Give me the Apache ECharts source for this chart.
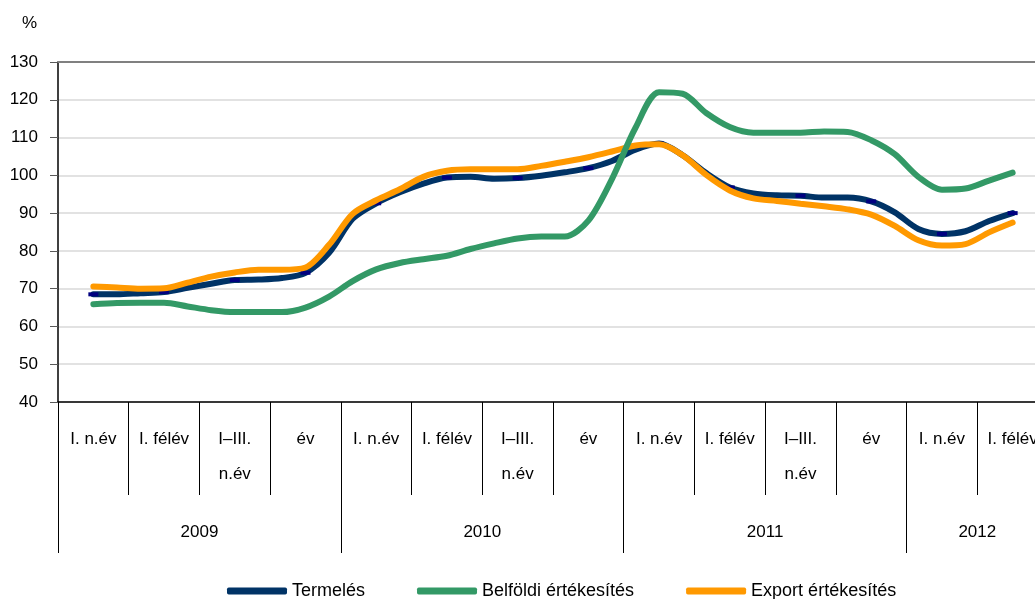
<!DOCTYPE html>
<html>
<head>
<meta charset="utf-8">
<script src="https://cdn.jsdelivr.net/npm/echarts@6/dist/echarts.min.js"></script>
<style>
  html, body { margin: 0; padding: 0; background: #fff; }
  #chart { width: 1035px; height: 599px; }
</style>
</head>
<body>
<div id="chart"></div>
<script>
// negyedéves címkék és évek
var quarterLabels = [
    'I. n.év', 'I. félév', 'I–III.\nn.év', 'év',
    'I. n.év', 'I. félév', 'I–III.\nn.év', 'év',
    'I. n.év', 'I. félév', 'I–III.\nn.év', 'év',
    'I. n.év', 'I. félév'
];
var years = ['2009', '2010', '2011', '2012'];
var quartersPerYear = [4, 4, 4, 2];
var seriesNames = ['Termelés', 'Belföldi értékesítés', 'Export értékesítés'];
var seriesColors = ['#003366', '#339966', '#ff9900'];

// havi adatok, 2009. február – 2012. május
var termeles = [
    68.5, 68.5, 68.8, 69.1, 70.2, 71.3, 72.3, 72.4, 72.8, 74.2,
    79.5, 88.5, 92.6, 95.5, 97.8, 99.4, 99.6, 99.1, 99.3, 99.9,
    100.8, 101.9, 103.8, 106.8, 108.4, 105.3, 100.6, 96.8, 95.2, 94.7,
    94.6, 94.1, 94.1, 93.1, 90.2, 85.8, 84.5, 85.2, 87.9, 90.0
];
var belfoldi = [
    65.9, 66.2, 66.3, 66.3, 65.3, 64.3, 63.8, 63.8, 63.8, 65.0,
    67.9, 72.0, 75.1, 76.8, 77.8, 78.7, 80.5, 82.0, 83.3, 83.8,
    83.8, 88.0, 99.0, 112.6, 122.0, 121.6, 116.5, 112.8, 111.3, 111.3,
    111.3, 111.6, 111.5, 109.3, 105.6, 99.6, 96.2, 96.5, 98.6, 100.7
];
var exportErt = [
    70.6, 70.3, 70.0, 70.1, 71.6, 73.2, 74.3, 75.0, 75.0, 75.6,
    81.6, 89.8, 93.4, 96.3, 99.6, 101.2, 101.6, 101.6, 101.6, 102.5,
    103.6, 104.8, 106.3, 107.9, 108.2, 105.3, 100.1, 96.0, 93.9, 93.2,
    92.5, 91.8, 91.0, 89.6, 86.6, 82.8, 81.4, 81.8, 84.9, 87.5
];

// hónap kategóriák (a negyedévek harmadai)
var months = [];
quartersPerYear.forEach(function (q, i) {
    for (var m = 1; m <= q * 3; m++) {
        months.push(years[i] + '-' + m);
    }
});

// negyedév és év határok / közepek negyedév egységben
var quarterBounds = [], quarterCenters = [];
for (var i = 0; i <= quarterLabels.length; i++) {
    quarterBounds.push(i);
    if (i < quarterLabels.length) quarterCenters.push(i + 0.5);
}
var yearBounds = [], yearCenters = [], acc = 0;
quartersPerYear.forEach(function (q) {
    yearBounds.push(acc);
    yearCenters.push(acc + q / 2);
    acc += q;
});

function monthly(values, marked) {
    // első hónap (január) és utolsó (június) üres
    var out = [null];
    values.forEach(function (v, i) {
        if (marked) {
            out.push({ value: v, symbol: i % 3 === 0 ? 'rect' : 'none' });
        } else {
            out.push(v);
        }
    });
    out.push(null);
    return out;
}

var font = "'Liberation Sans', Arial, sans-serif";

var option = {
    animation: false,
    textStyle: { fontFamily: font, color: '#000' },
    title: {
        text: '%', left: 17, top: 10,
        textStyle: { fontSize: 17, fontWeight: 'normal', color: '#000', fontFamily: font }
    },
    legend: {
        data: seriesNames.map(function (n, i) {
            return { name: n, icon: 'roundRect', itemStyle: { color: seriesColors[i] } };
        }),
        left: 222, top: 577,
        itemWidth: 60, itemHeight: 7, itemGap: 52,
        textStyle: { fontSize: 18, color: '#000' }
    },
    grid: {
        left: 58, right: -13, top: 62, bottom: 197,
        outerBoundsMode: 'none'
    },
    xAxis: [{
        type: 'category',
        data: months,
        position: 'top',
        boundaryGap: true,
        axisLine: { lineStyle: { color: '#808080', width: 2 } },
        axisTick: { show: false },
        axisLabel: { show: false },
        splitLine: { show: false }
    }, {
        type: 'value',
        min: 0, max: 14,
        position: 'bottom',
        axisLine: { lineStyle: { color: '#000', width: 1.5 } },
        axisTick: { customValues: quarterBounds, length: 93, lineStyle: { color: '#000' } },
        axisLabel: {
            customValues: quarterCenters,
            margin: 20, lineHeight: 35, fontSize: 17, color: '#000',
            formatter: function (v) {
                return quarterLabels[Math.floor(v)];
            }
        },
        splitLine: { show: false }
    }, {
        type: 'value',
        min: 0, max: 14,
        position: 'bottom',
        axisLine: { show: false },
        axisTick: { customValues: yearBounds, length: 151, lineStyle: { color: '#000' } },
        axisLabel: {
            customValues: yearCenters,
            margin: 122, fontSize: 17, color: '#000',
            formatter: function (v) {
                return years[yearCenters.indexOf(v)];
            }
        },
        splitLine: { show: false }
    }],
    yAxis: {
        type: 'value',
        min: 40, max: 130, interval: 10,
        axisLine: { show: true, lineStyle: { color: '#000', width: 1.5 } },
        axisTick: { show: true, length: 8, lineStyle: { color: '#595959' } },
        axisLabel: { fontSize: 17, color: '#000', margin: 20 },
        splitLine: { lineStyle: { color: '#d9d9d9', width: 1.5 } }
    },
    series: [{
        name: seriesNames[0],
        type: 'line',
        xAxisIndex: 0,
        data: monthly(termeles, true),
        smooth: 0.3,
        symbol: 'rect',
        symbolSize: [10, 4],
        itemStyle: { color: '#000080' },
        lineStyle: { color: seriesColors[0], width: 6, cap: 'round' },
        z: 2
    }, {
        name: seriesNames[1],
        type: 'line',
        xAxisIndex: 0,
        data: monthly(belfoldi, false),
        smooth: 0.3,
        symbol: 'none',
        itemStyle: { color: seriesColors[1] },
        lineStyle: { color: seriesColors[1], width: 6, cap: 'round' },
        z: 4
    }, {
        name: seriesNames[2],
        type: 'line',
        xAxisIndex: 0,
        data: monthly(exportErt, false),
        smooth: 0.3,
        symbol: 'none',
        itemStyle: { color: seriesColors[2] },
        lineStyle: { color: seriesColors[2], width: 6, cap: 'round' },
        z: 3
    }]
};

var myChart = echarts.init(document.getElementById('chart'));
myChart.setOption(option);
</script>
</body>
</html>
